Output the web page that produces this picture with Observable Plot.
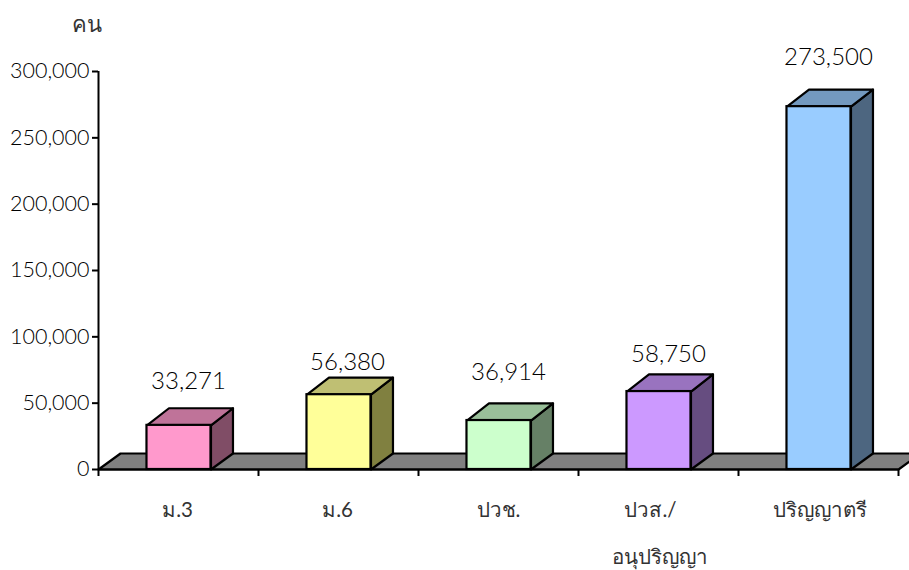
<!DOCTYPE html>
<html lang="th">
<head>
<meta charset="utf-8">
<script src="https://cdn.jsdelivr.net/npm/d3@7"></script>
<script src="https://cdn.jsdelivr.net/npm/@observablehq/plot@0.6"></script>
<style>
html,body{margin:0;padding:0;background:#fff;overflow:hidden}
svg{display:block}
</style>
</head>
<body>
<div id="chart"></div>
<script>
const categories = ["ม.3", "ม.6", "ปวช.", "ปวส./", "ปริญญาตรี"];
const categoriesLine2 = ["อนุปริญญา"];
const values = [33271, 56380, 36914, 58750, 273500];
const yTicks = [0, 50000, 100000, 150000, 200000, 250000, 300000];
const frontColors = ["#FF99CC", "#FFFF99", "#CCFFCC", "#CC99FF", "#99CCFF"];
const topColors = ["#BF7399", "#BFBF73", "#99BF99", "#9973BF", "#7399BF"];
const sideColors = ["#804D66", "#808040", "#668066", "#664D80", "#4D6680"];
const unit = "คน";

// depth of the 3-D projection, bar centre and half bar width, in data units
const depthX = 0.1375, depthY = 12060, topDepthY = 12900, barCentre = 0.503, halfBar = 0.2;
const floorColor = "#808080";
const font = "Lato,'Noto Sans','Liberation Sans',sans-serif";
const digitColor = "#000";
const thaiColor = "#333";
const labelDx = [10, 9, 10, 10, 10];
const labelDy = [-28, -16, -32, -21, -33];
const catDx = [-1, -1, 0, -8, 1];

const bars = values.map((v, i) => ({
  i, v, x1: i + barCentre - halfBar, x2: i + barCentre + halfBar,
  front: frontColors[i], top: topColors[i], side: sideColors[i]
}));
const faces = bars.flatMap(b => [
  {id: "s" + b.i, fill: b.side, x: b.x2, y: 0},
  {id: "s" + b.i, fill: b.side, x: b.x2 + depthX, y: depthY},
  {id: "s" + b.i, fill: b.side, x: b.x2 + depthX, y: b.v + topDepthY},
  {id: "s" + b.i, fill: b.side, x: b.x2, y: b.v},
  {id: "t" + b.i, fill: b.top, x: b.x1, y: b.v},
  {id: "t" + b.i, fill: b.top, x: b.x2, y: b.v},
  {id: "t" + b.i, fill: b.top, x: b.x2 + depthX, y: b.v + topDepthY},
  {id: "t" + b.i, fill: b.top, x: b.x1 + depthX, y: b.v + topDepthY}
]);
const floor = [
  {x: 0, y: 0}, {x: 5, y: 0}, {x: 5 + depthX, y: depthY}, {x: depthX, y: depthY}
];
const lineOpts = {x: "x", y: "y", stroke: "black", strokeWidth: 2.2, curve: "linear-closed"};

const chart = Plot.plot({
  width: 909, height: 570,
  marginLeft: 98, marginRight: 11, marginTop: 71, marginBottom: 101,
  style: {fontFamily: font, fontWeight: 300, background: "#fff", color: digitColor, overflow: "hidden"},
  x: {domain: [0, 5], axis: null},
  y: {domain: [0, 300000], axis: null},
  marks: [
    Plot.line(floor, {...lineOpts, fill: floorColor}),
    Plot.line(faces, {...lineOpts, z: "id", fill: "fill"}),
    Plot.rect(bars, {x1: "x1", x2: "x2", y1: 0, y2: "v", fill: "front", stroke: "black", strokeWidth: 2.2}),
    Plot.ruleX([0], {stroke: "black", strokeWidth: 2}),
    Plot.ruleY([0], {stroke: "black", strokeWidth: 2}),
    Plot.axisY({ticks: yTicks, tickSize: 6, tickPadding: 3, tickFormat: d3.format(","), fontSize: 21.5, stroke: "black", strokeWidth: 2, label: null}),
    Plot.axisX({ticks: [0, 1, 2, 3, 4, 5], tickSize: 7, tickFormat: () => "", stroke: "black", strokeWidth: 2, label: null}),
    ...categories.map((c, i) => Plot.text([c], {x: i + 0.5, y: 0, text: d => d, dx: catDx[i], dy: 41, fontSize: 20.5, fontWeight: 400, fill: thaiColor})),
    Plot.text(categoriesLine2, {x: 3.5, y: 0, text: d => d, dx: 1, dy: 88, fontSize: 20.5, fontWeight: 400, fill: thaiColor}),
    ...bars.map(b => Plot.text([b], {x: d => d.i + 0.5, y: "v", text: d => d3.format(",")(d.v), dx: labelDx[b.i], dy: labelDy[b.i] - 16, fontSize: 24, fill: digitColor})),
    Plot.text([unit], {x: 0, y: 300000, dx: -12, dy: -47, fontSize: 22, fontWeight: 400, fill: thaiColor})
  ]
});
document.getElementById("chart").append(chart);
</script>
</body>
</html>
